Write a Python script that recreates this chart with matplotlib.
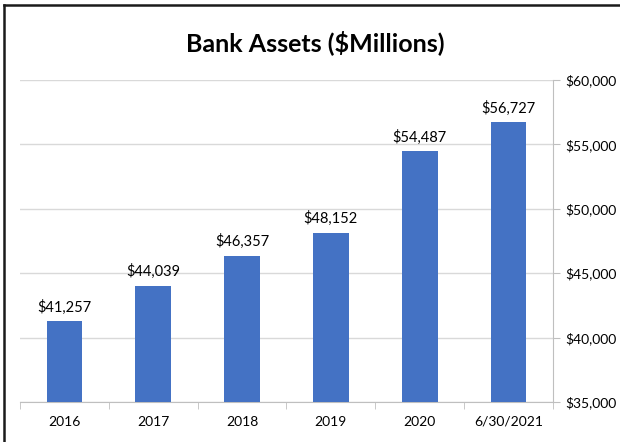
import numpy as np
import matplotlib.pyplot as plt
from matplotlib.lines import Line2D
from matplotlib.ticker import FuncFormatter, MultipleLocator

plt.rcParams['font.family'] = ['Lato', 'DejaVu Sans']

categories = ['2016', '2017', '2018', '2019', '2020', '6/30/2021']
assets = [41257, 44039, 46357, 48152, 54487, 56727]

fig = plt.figure(figsize=(6.2, 4.42), dpi=100)
ax = fig.add_axes([0.032, 0.0905, 0.86, 0.7285])

x = np.arange(len(categories))
bars = ax.bar(x, assets, width=0.4, color='#4472C4', zorder=3)

for xi, v in zip(x, assets):
    ax.text(xi, v + 500, '${:,}'.format(v), ha='center', va='bottom',
            fontsize=10.5, color='#000000')

ax.set_xlim(-0.5, len(categories) - 0.5)
ax.set_ylim(35000, 60000)
ax.yaxis.set_major_locator(MultipleLocator(5000))
ax.yaxis.set_major_formatter(FuncFormatter(lambda v, p: '${:,.0f}'.format(v)))
ax.yaxis.tick_right()
ax.grid(axis='y', color='#D9D9D9', linewidth=1, zorder=0)

ax.set_xticks(x)
ax.set_xticklabels(categories, fontsize=10)
ax.set_xticks(np.arange(-0.5, len(categories)), minor=True)
ax.tick_params(axis='x', which='major', length=0, pad=10)
ax.tick_params(axis='x', which='minor', length=5, color='#BFBFBF')
ax.tick_params(axis='y', which='major', length=5, color='#BFBFBF', labelsize=10, pad=4)

for s in ['top', 'left']:
    ax.spines[s].set_visible(False)
ax.spines['bottom'].set_color('#BFBFBF')
ax.spines['right'].set_color('#BFBFBF')

fig.text(0.508, 0.903, 'Bank Assets ($Millions)', ha='center', va='center',
         fontsize=18, fontweight='bold')

# chart border (only left and top visible in the crop)
fig.add_artist(Line2D([4 / 620, 4 / 620], [0, 1 - 5 / 442], color='#1a1a1a', linewidth=1.8))
fig.add_artist(Line2D([4 / 620, 1], [1 - 5 / 442, 1 - 5 / 442], color='#1a1a1a', linewidth=1.8))

fig.savefig('out.png', dpi=100)
